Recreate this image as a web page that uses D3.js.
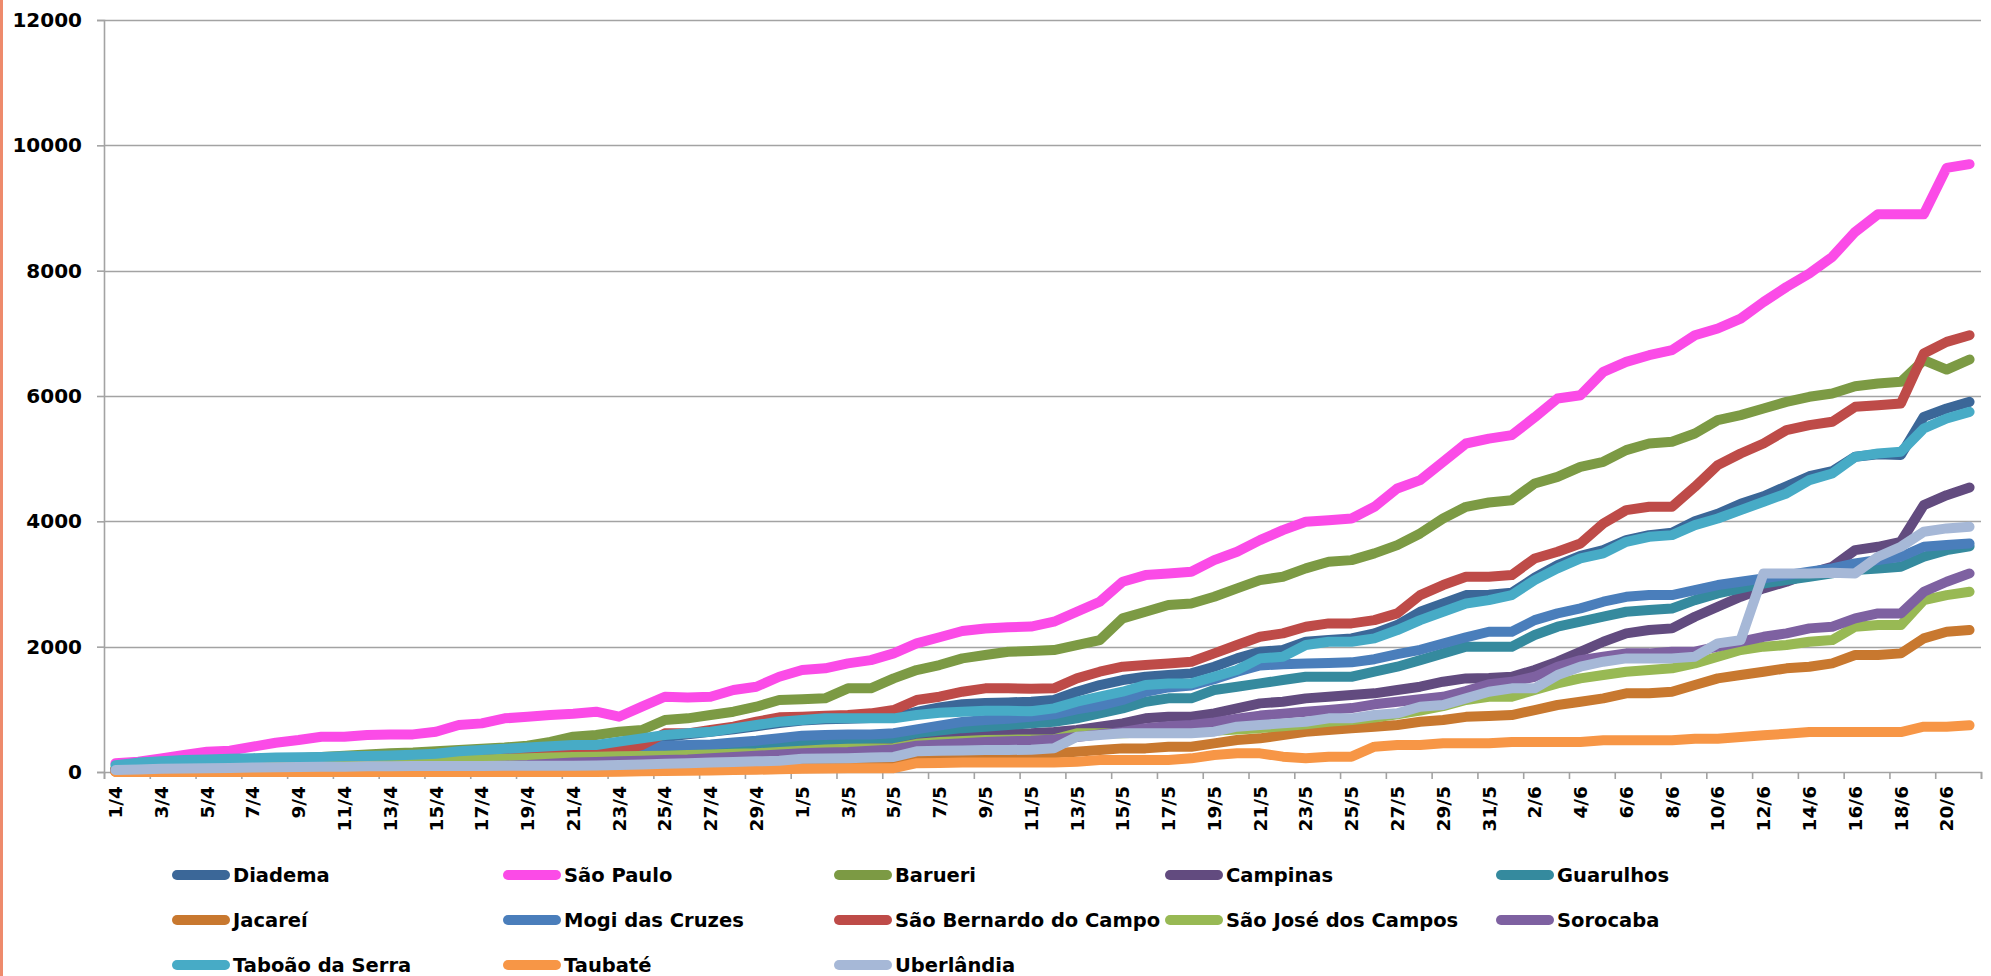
<!DOCTYPE html>
<html><head><meta charset="utf-8">
<script src="https://cdn.jsdelivr.net/npm/d3@7"></script>
<style>html,body{margin:0;padding:0;background:#fff;} svg{display:block;}</style>
</head><body><svg id="chart" width="1991" height="976"></svg>
<script>
const dates = ["1/4","2/4","3/4","4/4","5/4","6/4","7/4","8/4","9/4","10/4",
 "11/4","12/4","13/4","14/4","15/4","16/4","17/4","18/4","19/4","20/4",
 "21/4","22/4","23/4","24/4","25/4","26/4","27/4","28/4","29/4","30/4",
 "1/5","2/5","3/5","4/5","5/5","6/5","7/5","8/5","9/5","10/5",
 "11/5","12/5","13/5","14/5","15/5","16/5","17/5","18/5","19/5","20/5",
 "21/5","22/5","23/5","24/5","25/5","26/5","27/5","28/5","29/5","30/5",
 "31/5","1/6","2/6","3/6","4/6","5/6","6/6","7/6","8/6","9/6",
 "10/6","11/6","12/6","13/6","14/6","15/6","16/6","17/6","18/6","19/6",
 "20/6","21/6"];

const yTicks = [0,2000,4000,6000,8000,10000,12000];

const seriesNames = ["Diadema","São Paulo","Barueri","Campinas","Guarulhos",
 "Jacareí","Mogi das Cruzes","São Bernardo do Campo","São José dos Campos","Sorocaba",
 "Taboão da Serra","Taubaté","Uberlândia"];

const seriesColors = ["#3b6798","#fb4be7","#7c9a44","#624b7f","#358a9e",
 "#c8782f","#4a7ebb","#be4b48","#98b954","#7e61a1",
 "#47abc6","#f79646","#a6b8d7"];

const diadema = [40,50,60,70,80,90,100,110,120,130,
 140,150,160,170,190,220,250,280,300,330,
 400,420,460,500,560,600,640,680,730,780,
 820,840,850,860,870,960,1030,1080,1100,1110,
 1122,1148,1281,1388,1467,1520,1547,1574,1680,1813,
 1919,1946,2079,2105,2132,2212,2345,2557,2690,2823,
 2830,2860,3100,3300,3450,3540,3700,3780,3820,4000,
 4120,4280,4400,4560,4720,4800,5030,5070,5060,5667,
 5800,5907];

const saoPaulo = [138,165,218,271,324,340,404,467,510,563,
 563,590,600,600,643,750,776,856,882,909,
 930,962,882,1042,1201,1190,1201,1308,1361,1520,
 1627,1654,1733,1786,1893,2052,2150,2250,2290,2310,
 2320,2398,2557,2717,3036,3142,3169,3195,3381,3514,
 3700,3860,3993,4019,4046,4232,4525,4657,4950,5242,
 5320,5375,5660,5960,6013,6385,6545,6651,6731,6970,
 7077,7235,7500,7740,7954,8219,8618,8900,8900,8900,
 9640,9700];

const barueri = [60,80,100,120,140,160,180,200,220,240,
 260,280,300,310,330,350,370,390,420,480,
 563,590,643,670,829,856,909,962,1042,1148,
 1160,1175,1335,1335,1494,1627,1707,1813,1866,1919,
 1930,1946,2026,2105,2451,2557,2664,2690,2796,2930,
 3062,3115,3249,3355,3381,3488,3621,3807,4046,4232,
 4300,4338,4604,4710,4870,4950,5136,5242,5269,5402,
 5614,5694,5800,5907,5987,6040,6157,6200,6226,6571,
 6422,6583];

const campinas = [10,12,15,20,25,30,35,40,45,50,
 60,70,80,90,100,110,130,150,170,190,
 200,210,220,240,260,280,300,310,320,340,
 350,360,380,400,420,530,560,580,600,610,
 620,640,670,723,776,856,882,882,936,1015,
 1095,1122,1175,1201,1228,1255,1308,1361,1441,1494,
 1500,1520,1627,1760,1919,2079,2212,2265,2292,2478,
 2637,2796,2930,3036,3169,3275,3541,3594,3674,4259,
 4418,4541];

const guarulhos = [20,25,30,35,40,45,50,55,60,65,
 70,80,90,100,110,130,150,170,190,220,
 250,260,280,300,320,330,350,380,410,450,
 500,510,520,530,540,620,660,700,720,750,
 776,803,856,936,1015,1122,1175,1175,1308,1361,
 1414,1467,1520,1520,1520,1600,1680,1786,1893,2000,
 2000,2000,2185,2318,2398,2478,2557,2584,2610,2743,
 2850,2930,3009,3062,3115,3169,3222,3249,3275,3435,
 3540,3600];

const jacarei = [5,8,10,12,15,18,20,22,25,28,
 30,32,35,38,40,45,50,55,60,65,
 70,75,80,85,90,95,100,105,110,120,
 130,140,150,160,170,200,210,230,250,270,
 285,298,324,351,377,377,404,404,457,510,
 537,590,643,670,696,723,750,803,829,880,
 895,909,989,1069,1122,1175,1255,1255,1281,1388,
 1494,1547,1600,1654,1680,1733,1866,1866,1893,2132,
 2238,2265];

const mogi = [30,35,40,45,50,60,70,80,90,100,
 110,120,130,140,150,170,190,210,240,280,
 330,340,360,380,420,430,440,470,500,540,
 580,590,600,600,620,680,740,800,830,850,
 880,920,1000,1060,1150,1280,1350,1380,1480,1600,
 1700,1720,1730,1740,1750,1800,1880,1950,2050,2150,
 2238,2238,2424,2531,2611,2717,2796,2823,2823,2903,
 2983,3036,3089,3142,3195,3249,3329,3382,3435,3594,
 3621,3647];

const saoBernardo = [50,60,70,80,90,100,110,120,130,140,
 150,160,170,180,200,230,260,280,290,295,
 298,298,346,430,617,617,670,723,803,872,
 882,896,909,936,989,1148,1201,1281,1335,1335,
 1330,1335,1494,1600,1680,1707,1733,1760,1893,2026,
 2158,2212,2318,2371,2371,2424,2531,2823,2983,3115,
 3116,3142,3408,3514,3647,3966,4179,4232,4232,4551,
 4897,5083,5242,5455,5535,5588,5827,5854,5880,6678,
 6864,6970];

const saoJose = [20,30,40,50,60,70,80,90,100,110,
 120,130,140,150,170,190,200,210,220,230,
 240,245,250,255,260,270,280,290,300,320,
 340,360,370,375,380,450,480,495,510,515,
 520,520,617,617,620,630,640,650,660,680,
 700,730,760,800,830,870,920,980,1050,1150,
 1201,1201,1308,1414,1494,1547,1600,1627,1654,1733,
 1840,1946,2000,2026,2079,2105,2318,2345,2345,2743,
 2823,2876];

const sorocaba = [10,12,15,18,20,25,30,35,40,45,
 50,55,60,65,70,80,90,100,110,130,
 150,160,170,180,190,200,220,240,260,280,
 300,310,320,340,360,420,440,460,480,490,
 500,520,560,600,640,700,730,750,790,850,
 900,930,960,990,1020,1080,1120,1160,1200,1290,
 1400,1440,1520,1680,1786,1840,1893,1893,1920,1920,
 2000,2079,2158,2212,2292,2318,2451,2531,2531,2876,
 3036,3169];

const taboao = [110,150,170,190,200,210,220,230,235,240,
 250,255,265,275,290,330,350,370,390,410,
 431,431,484,537,590,617,643,696,750,803,
 829,856,856,856,856,909,946,962,978,978,
 970,1015,1122,1201,1281,1388,1414,1414,1520,1627,
 1813,1840,2026,2079,2079,2132,2265,2424,2557,2690,
 2743,2823,3062,3249,3408,3488,3674,3753,3780,3940,
 4046,4179,4312,4445,4657,4764,5029,5083,5109,5482,
 5641,5747];

const taubate = [0,0,0,0,0,0,0,0,0,0,
 0,0,0,0,0,0,0,0,0,0,
 0,0,5,10,15,20,25,30,35,45,
 50,55,58,60,60,140,145,150,150,150,
 150,150,165,191,191,191,191,218,271,298,
 298,245,218,245,245,404,430,430,457,457,
 457,480,480,480,480,505,505,505,505,531,
 531,558,585,611,638,638,638,638,638,723,
 723,745];

const uberlandia = [30,40,50,55,60,65,70,75,80,85,
 85,90,90,95,95,95,95,100,100,100,
 100,105,110,120,130,140,150,160,170,180,
 210,215,220,230,240,330,340,345,350,352,
 355,380,563,590,617,617,617,617,643,723,
 750,776,803,856,856,909,936,1042,1069,1175,
 1281,1335,1335,1547,1680,1760,1813,1813,1813,1840,
 2052,2105,3169,3169,3169,3180,3169,3435,3594,3833,
 3887,3913];

const seriesValues = [diadema, saoPaulo, barueri, campinas, guarulhos,
 jacarei, mogi, saoBernardo, saoJose, sorocaba, taboao, taubate, uberlandia];

const series = seriesNames.map((name, i) => ({name, color: seriesColors[i], values: seriesValues[i]}));

// ---------- layout ----------
const W = 1991, H = 976;
const plotL = 104, plotR = 1981, plotT = 20, plotB = 772;
const FONT = "'DejaVu Sans', 'Liberation Sans', sans-serif";
const gridColor = "#a3a3a3";

const svg = d3.select("#chart");
svg.append("rect").attr("width", W).attr("height", H).attr("fill", "#fff");
svg.append("rect").attr("x", 0).attr("y", 0).attr("width", 3).attr("height", H).attr("fill", "#ee8a6c");

const x = d3.scaleBand().domain(dates).range([plotL, plotR]).padding(0);
const xIdx = d3.scaleLinear().domain([0, dates.length]).range([plotL, plotR]);
const y = d3.scaleLinear().domain([0, 12000]).range([plotB, plotT]);

// gridlines
svg.append("g").selectAll("line").data(yTicks.filter(v => v > 0)).join("line")
  .attr("x1", plotL).attr("x2", plotR)
  .attr("y1", d => Math.round(y(d)) + 0.5).attr("y2", d => Math.round(y(d)) + 0.5)
  .attr("stroke", gridColor).attr("stroke-width", 1.6);

// y axis
const gy = svg.append("g").attr("transform", `translate(${plotL},0)`)
  .call(d3.axisLeft(y).tickValues(yTicks).tickSize(7).tickPadding(15).tickFormat(d3.format("d")));
gy.select(".domain").attr("stroke", gridColor).attr("stroke-width", 1.6);
gy.selectAll(".tick line").attr("stroke", gridColor).attr("stroke-width", 1.6);
gy.selectAll("text").attr("font-family", FONT).attr("font-weight", "bold")
  .attr("font-size", 20).attr("fill", "#000");

// x axis: ticks at category boundaries every 2 categories
const boundaryTicks = d3.range(0, dates.length + 1, 2);
const gxTicks = svg.append("g").attr("transform", `translate(0,${plotB})`)
  .call(d3.axisBottom(xIdx).tickValues(boundaryTicks).tickSize(7).tickFormat(""));
gxTicks.select(".domain").attr("stroke", gridColor).attr("stroke-width", 1.6);
gxTicks.selectAll(".tick line").attr("stroke", gridColor).attr("stroke-width", 1.6);

// x labels (every other category) centered on the category
const gx = svg.append("g").attr("transform", `translate(0,${plotB})`)
  .call(d3.axisBottom(x).tickValues(dates.filter((d, i) => i % 2 === 0)).tickSize(0));
gx.select(".domain").remove();
gx.selectAll("text")
  .attr("transform", "rotate(-90)")
  .attr("text-anchor", "end")
  .attr("x", -14).attr("y", 0).attr("dy", "0.36em")
  .attr("font-family", FONT).attr("font-weight", "bold")
  .attr("font-size", 18.5).attr("fill", "#000");

// lines
const line = d3.line()
  .x((d, i) => x(dates[i]) + x.bandwidth() / 2)
  .y(d => y(d));

svg.append("g").selectAll("path").data(series).join("path")
  .attr("d", d => line(d.values))
  .attr("fill", "none")
  .attr("stroke", d => d.color)
  .attr("stroke-width", 10)
  .attr("stroke-linejoin", "round")
  .attr("stroke-linecap", "round");

// legend
const legCol = d3.scaleLinear().domain([0, 1]).range([172, 503]);
const legRow = d3.scaleLinear().domain([0, 1]).range([875, 920]);
const leg = svg.append("g").selectAll("g").data(series).join("g")
  .attr("transform", (d, i) => `translate(${legCol(i % 5)},${legRow(Math.floor(i / 5))})`);
leg.append("line").attr("x1", 5).attr("x2", 53).attr("y1", 0).attr("y2", 0)
  .attr("stroke", d => d.color).attr("stroke-width", 10).attr("stroke-linecap", "round");
leg.append("text").attr("x", 61).attr("y", 0).attr("dy", "0.36em")
  .attr("font-family", FONT).attr("font-weight", "bold").attr("font-size", 19.5)
  .attr("fill", "#000").text(d => d.name);
</script>
</body></html>
